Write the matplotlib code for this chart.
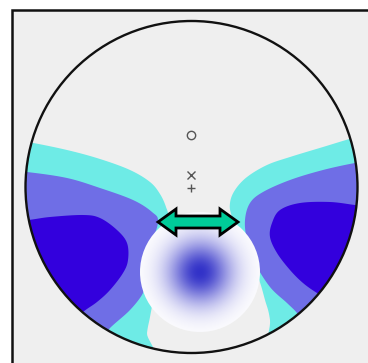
import numpy as np
import matplotlib
matplotlib.use("Agg")
import matplotlib.pyplot as plt
from matplotlib.patches import Circle, Polygon, Rectangle

# scalp map drawn in pixel units of the original picture
head_center = (191.5, 187.0)
head_radius = 166.0

# contour bands, left hemisphere (outline of each filled level)
left_cyan = [(0, 138), (28, 142), (67, 150), (100, 159), (130, 170), (150, 182),
             (160, 194), (166, 207), (168, 218), (163, 245), (155, 290),
             (150, 317), (147, 333), (144, 365), (0, 365)]
left_mid = [(0, 170), (27, 172), (67, 178), (100, 188), (133, 200), (152, 212),
            (158, 222), (150, 250), (145, 280), (143, 293), (130, 310),
            (110, 328), (95, 345), (0, 365)]
left_dark = [(0, 222), (28, 220), (50, 217), (83, 215), (100, 218), (117, 230),
             (127, 243), (128, 260), (123, 273), (110, 290), (97, 302),
             (83, 312), (70, 325), (0, 330)]

# contour bands, right hemisphere
right_cyan = [(368, 135), (353, 138), (323, 147), (290, 157), (267, 165),
              (247, 177), (235, 190), (230, 203), (232, 217), (245, 250),
              (258, 277), (265, 300), (270, 320), (274, 365), (368, 365)]
right_mid = [(368, 162), (355, 163), (323, 170), (290, 180), (263, 192),
             (250, 203), (245, 220), (247, 240), (255, 263), (270, 287),
             (287, 303), (297, 313), (305, 325), (368, 340)]
right_dark = [(368, 206), (355, 205), (330, 202), (300, 203), (280, 210),
              (272, 223), (270, 237), (277, 253), (290, 270), (303, 283),
              (317, 293), (330, 300), (368, 300)]

band_colors = {"cyan": "#6eebe6", "mid": "#6f6ee6", "dark": "#3300dd"}

# reference markers on the midline
marker_x = [191, 191, 191]
marker_y = [135, 175, 188]
marker_symbols = ["o", "x", "+"]

# source blob and arrow
blob_center = (200.0, 272.0)
blob_radius = 60.0
blob_sigma = 22.0
blob_color = np.array([50, 50, 200]) / 255.0
arrow_x = (158.0, 238.0)
arrow_y = 222.0


def smooth(pts, n=12):
    # catmull-rom through the outline points so the bands look like contours
    p = np.asarray(pts, float)
    p = np.vstack([p[0], p, p[-1]])
    out = []
    t = np.linspace(0, 1, n, endpoint=False)[:, None]
    for i in range(1, len(p) - 2):
        p0, p1, p2, p3 = p[i - 1], p[i], p[i + 1], p[i + 2]
        out.append(0.5 * (2 * p1 + (-p0 + p2) * t + (2 * p0 - 5 * p1 + 4 * p2 - p3) * t ** 2
                          + (-p0 + 3 * p1 - 3 * p2 + p3) * t ** 3))
    out.append(p[-2][None, :])
    return np.vstack(out)


fig = plt.figure(figsize=(3.68, 3.63), dpi=100)
ax = fig.add_axes([0, 0, 1, 1])
ax.set_xlim(0, 368)
ax.set_ylim(363, 0)
ax.axis("off")

# panel frame: only left and top edges fall inside the crop
ax.add_patch(Rectangle((12, 10), 400, 400, facecolor="#efefef",
                       edgecolor="none", zorder=0))
ax.plot([12, 12, 400], [400, 10, 10], color="#111111", lw=1.8,
        solid_joinstyle="miter", zorder=0.5)

head = Circle(head_center, head_radius, transform=ax.transData)
for poly, c in [(left_cyan, "cyan"), (left_mid, "mid"), (left_dark, "dark"),
                (right_cyan, "cyan"), (right_mid, "mid"), (right_dark, "dark")]:
    p = Polygon(smooth(poly), closed=True, facecolor=band_colors[c], edgecolor="none", zorder=1)
    ax.add_patch(p)
    p.set_clip_path(head)

ax.add_patch(Circle(head_center, head_radius, facecolor="none",
                    edgecolor="#111111", lw=1.7, zorder=5))

# gaussian blob on a white disc
gx = np.linspace(blob_center[0] - blob_radius, blob_center[0] + blob_radius, 241)
gy = np.linspace(blob_center[1] - blob_radius, blob_center[1] + blob_radius, 241)
GX, GY = np.meshgrid(gx, gy)
a = np.exp(-((GX - blob_center[0]) ** 2 + (GY - blob_center[1]) ** 2) / (2 * blob_sigma ** 2))
img = np.ones(GX.shape + (3,)) * (1 - a[..., None]) + blob_color * a[..., None]
im = ax.imshow(img, extent=(gx[0], gx[-1], gy[-1], gy[0]), zorder=2,
               interpolation="bilinear")
disc = Circle(blob_center, blob_radius, transform=ax.transData)
im.set_clip_path(disc)

# double-headed arrow
x0, x1 = arrow_x
hw, sw, hl = 13.0, 6.0, 18.0
verts = [(x0, arrow_y), (x0 + hl, arrow_y - hw), (x0 + hl, arrow_y - sw),
         (x1 - hl, arrow_y - sw), (x1 - hl, arrow_y - hw), (x1, arrow_y),
         (x1 - hl, arrow_y + hw), (x1 - hl, arrow_y + sw), (x0 + hl, arrow_y + sw),
         (x0 + hl, arrow_y + hw)]
ax.add_patch(Polygon(verts, closed=True, facecolor="#00cc99", edgecolor="black",
                     lw=2.0, joinstyle="miter", zorder=6))

for mx, my, ms in zip(marker_x, marker_y, marker_symbols):
    ax.plot(mx, my, marker=ms, ms=6, mfc="none", mec="#555555", mew=1.0, zorder=4)

fig.savefig("out.png", dpi=100)
